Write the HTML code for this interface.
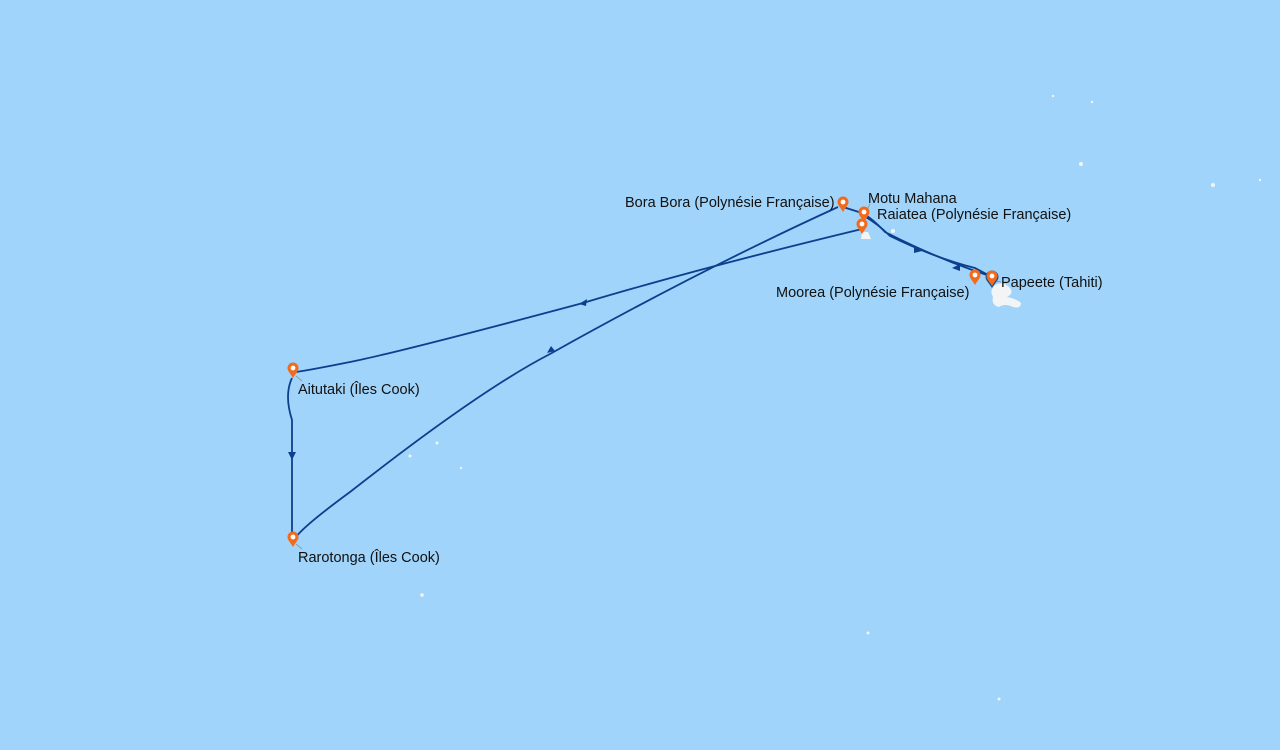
<!DOCTYPE html>
<html><head><meta charset="utf-8"><style>
html,body{margin:0;padding:0;width:1280px;height:750px;overflow:hidden;background:#a0d4fa}
svg{display:block}
text{font-family:"Liberation Sans",sans-serif;font-size:14.5px;fill:#111}
</style></head><body>
<svg width="1280" height="750" viewBox="0 0 1280 750">
<defs>
<g id="pin"><path d="M0,1 C-3,-4 -5.5,-6 -5.5,-9 A5.5,5.5 0 1 1 5.5,-9 C5.5,-6 3,-4 0,1Z" fill="#f26a1b"/><circle cx="0" cy="-9" r="2.4" fill="#fff"/></g>
<g id="pinb"><path d="M0,2 C-4,-4 -6.5,-6 -6.5,-9 A6.5,6.5 0 1 1 6.5,-9 C6.5,-6 4,-4 0,2Z" fill="#1d4f91"/></g>
</defs>
<g fill="#f2f4f6">
<path d="M995,285 q8,-4 14,2 q6,6 -2,10 q10,2 14,6 q0,6 -8,4 q-8,-4 -14,0 q-8,-2 -6,-10 q-4,-6 2,-12z"/>
<path d="M862,232 l6,0 l3,7 l-10,0z"/>
<circle cx="893" cy="231" r="2"/><circle cx="1081" cy="164" r="2"/><circle cx="1213" cy="185" r="2"/>
<circle cx="437" cy="443" r="1.5"/><circle cx="410" cy="456" r="1.5"/><circle cx="461" cy="468" r="1.2"/>
<circle cx="422" cy="595" r="1.8"/><circle cx="868" cy="633" r="1.5"/><circle cx="999" cy="699" r="1.5"/>
<circle cx="1053" cy="96" r="1.2"/><circle cx="1092" cy="102" r="1.2"/><circle cx="1260" cy="180" r="1.2"/>
</g>
<g fill="none" stroke="#0d3f8f" stroke-width="1.8">
<path d="M843,207 L862,213 Q872,218 885,232 Q930,255 975,271 L990,276"/>
<path d="M864,216 Q878,224 890,236 Q935,258 975,268 L992,277"/>
<path d="M838,207 Q700,270 550,354 Q480,390 350,492 Q305,525 296,537"/>
<path d="M862,229 Q700,268 583,303 Q400,352 350,362 Q310,370 296,372"/>
<path d="M292,378 Q284,395 292,420 L292,537"/>
</g>
<g fill="#0d3f8f">
<path d="M292,460 l-4,-8 l8,0z"/>
<path d="M555,351 l-8,2 l4,-7z"/>
<path d="M579,304 l8,-5 l-1,7z"/>
<path d="M922,251 l-8,-5 l0,7z"/>
<path d="M952,268 l8,-4 l0,7z"/>
</g>
<g stroke="#888" stroke-width="0.8"><line x1="296" y1="376" x2="302" y2="381"/><line x1="296" y1="544" x2="302" y2="549"/><line x1="866" y1="212" x2="870" y2="204"/><line x1="996" y1="281" x2="1001" y2="282"/></g>
<use href="#pinb" x="992" y="286"/>
<use href="#pin" x="992" y="285"/>
<use href="#pin" x="975" y="284"/>
<use href="#pin" x="843" y="211"/>
<use href="#pin" x="864" y="221"/>
<use href="#pin" x="862" y="233"/>
<use href="#pin" x="293" y="377"/>
<use href="#pin" x="293" y="546"/>
<text x="625" y="207">Bora Bora (Polynésie Française)</text>
<text x="868" y="203">Motu Mahana</text>
<text x="877" y="219">Raiatea (Polynésie Française)</text>
<text x="776" y="297">Moorea (Polynésie Française)</text>
<text x="1001" y="287">Papeete (Tahiti)</text>
<text x="298" y="394">Aitutaki (Îles Cook)</text>
<text x="298" y="562">Rarotonga (Îles Cook)</text>
</svg>
</body></html>
